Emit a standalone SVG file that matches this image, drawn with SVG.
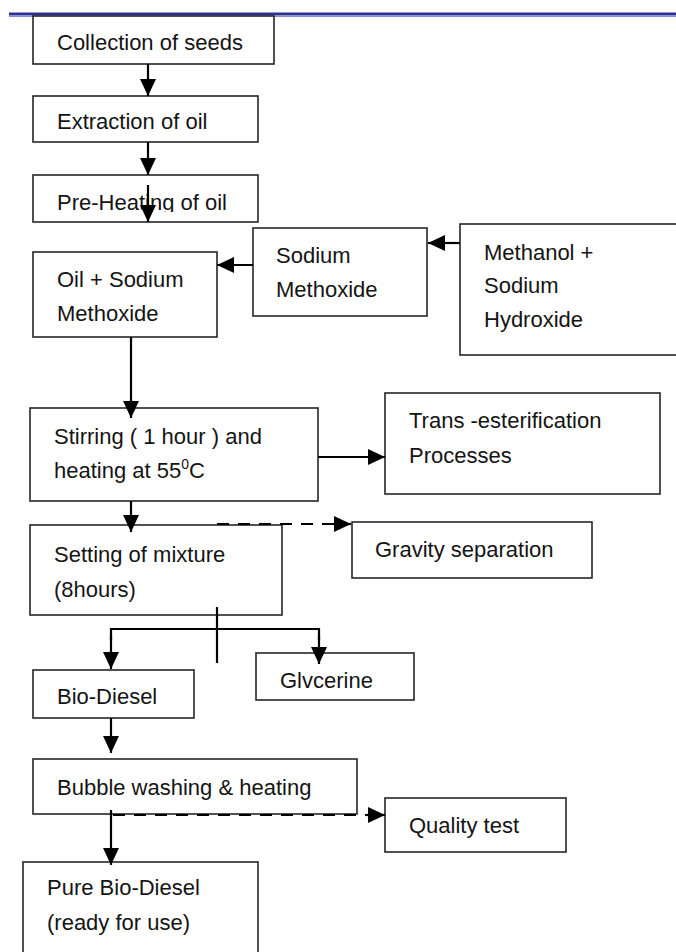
<svg xmlns="http://www.w3.org/2000/svg" width="676" height="952" viewBox="0 0 676 952">
<style>
.box{fill:#fff;stroke:#262626;stroke-width:1.6}
.t{font-family:"Liberation Sans",Arial,sans-serif;font-size:22px;fill:#141414}
.c{fill:none;stroke:#000;stroke-width:2.2}
.a{marker-end:url(#ah)}
.d{stroke-dasharray:12 9}
</style>
<defs>
<marker id="ah" viewBox="0 0 17 16" refX="17" refY="8" markerWidth="17" markerHeight="16" markerUnits="userSpaceOnUse" orient="auto">
<path d="M0,0 L17,8 L0,16 z" fill="#000"/>
</marker>
<clipPath id="clipPre"><rect x="33" y="175" width="226" height="37"/></clipPath>
</defs>
<rect x="9" y="12.5" width="667" height="3" fill="#2e3192"/>
<rect x="9" y="15.5" width="667" height="1.5" fill="#8a8dd0"/>

<g id="collection"><rect class="box" x="33" y="16" width="241" height="48"/><text class="t" x="57" y="50">Collection of seeds</text></g>
<g id="extraction"><rect class="box" x="33" y="96" width="225" height="46"/><text class="t" x="57" y="129">Extraction of oil</text></g>
<g id="preheating"><rect class="box" x="33" y="175" width="225" height="47"/><text class="t" x="57" y="210" clip-path="url(#clipPre)">Pre-Heating of oil</text></g>
<g id="oil-methoxide"><rect class="box" x="33" y="252" width="184" height="85"/><text class="t" x="57" y="287">Oil + Sodium</text><text class="t" x="57" y="321">Methoxide</text></g>
<g id="sodium-methoxide"><rect class="box" x="253" y="228" width="174" height="88"/><text class="t" x="276" y="263">Sodium</text><text class="t" x="276" y="297">Methoxide</text></g>
<g id="methanol"><rect class="box" x="460" y="224" width="240" height="131"/><text class="t" x="484" y="260">Methanol +</text><text class="t" x="484" y="293">Sodium</text><text class="t" x="484" y="327">Hydroxide</text></g>
<g id="stirring"><rect class="box" x="30" y="408" width="288" height="93"/><text class="t" x="54" y="444">Stirring ( 1 hour ) and</text><text class="t" x="54" y="478">heating at 55<tspan font-size="14" dy="-9">0</tspan><tspan dy="9">C</tspan></text></g>
<g id="trans"><rect class="box" x="385" y="393" width="275" height="101"/><text class="t" x="409" y="428">Trans -esterification</text><text class="t" x="409" y="463">Processes</text></g>
<g id="setting"><rect class="box" x="30" y="525" width="252" height="90"/><text class="t" x="54" y="562">Setting of mixture</text><text class="t" x="54" y="597">(8hours)</text></g>
<g id="gravity"><rect class="box" x="352" y="522" width="240" height="56"/><text class="t" x="375" y="557">Gravity separation</text></g>
<g id="biodiesel"><rect class="box" x="33" y="670" width="161" height="48"/><text class="t" x="57" y="704">Bio-Diesel</text></g>
<g id="glycerine"><rect class="box" x="256" y="653" width="158" height="47"/><text class="t" x="280" y="688">Glvcerine</text></g>
<g id="bubble"><rect class="box" x="33" y="759" width="324" height="55"/><text class="t" x="57" y="795">Bubble washing &amp; heating</text></g>
<g id="quality"><rect class="box" x="385" y="798" width="181" height="54"/><text class="t" x="409" y="833">Quality test</text></g>
<g id="pure"><rect class="box" x="23" y="862" width="235" height="100"/><text class="t" x="47" y="895">Pure Bio-Diesel</text><text class="t" x="47" y="930">(ready for use)</text></g>

<g id="connectors">
<line class="c a" x1="148" y1="64" x2="148" y2="96"/>
<line class="c a" x1="148" y1="142" x2="148" y2="175"/>
<line class="c a" x1="148" y1="185" x2="148" y2="222"/>
<line class="c a" x1="253" y1="265" x2="217" y2="265"/>
<line class="c a" x1="460" y1="243" x2="428" y2="243"/>
<line class="c a" x1="131" y1="337" x2="131" y2="418"/>
<line class="c a" x1="318" y1="457" x2="385" y2="457"/>
<line class="c a" x1="131" y1="501" x2="131" y2="532"/>
<line class="c d" x1="217" y1="524" x2="334" y2="524"/>
<line class="c a" x1="334" y1="524" x2="351" y2="524"/>
<line class="c" x1="217" y1="607" x2="217" y2="663"/>
<polyline class="c" points="111,640 111,629 319,629 319,640"/>
<line class="c a" x1="111" y1="635" x2="111" y2="669"/>
<line class="c a" x1="319" y1="635" x2="319" y2="664"/>
<line class="c a" x1="111" y1="718" x2="111" y2="753"/>
<line class="c d" x1="113" y1="815" x2="366" y2="815"/>
<line class="c a" x1="366" y1="815" x2="385" y2="815"/>
<line class="c a" x1="111" y1="810" x2="111" y2="865"/>
</g>
</svg>
